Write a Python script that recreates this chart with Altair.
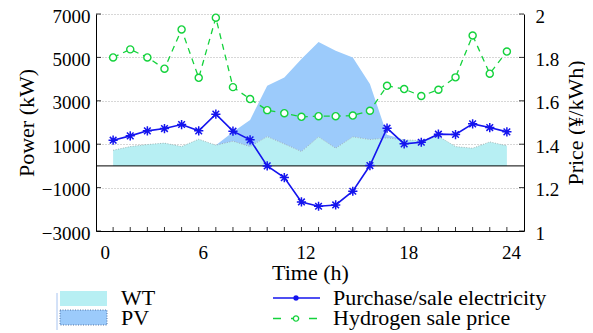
import altair as alt
import pandas as pd

# ---------------- data ----------------
hours = list(range(1, 25))
wt = [720, 890, 985, 1050, 890, 1230, 955, 1140, 890, 1350, 1015, 660,
      1340, 815, 1340, 1215, 1290, 1200, 1170, 1370, 890, 815, 1107, 923]
pv = [0, 0, 0, 0, 0, 0, 0, 420, 1230, 2340, 3060, 4265,
      4370, 4490, 3660, 2555, 150, 0, 0, 0, 0, 0, 0, 0]
purchase = [1185, 1384, 1615, 1722, 1907, 1615, 2385, 1600, 1200, 0, -540, -1662,
            -1860, -1800, -1168, 16, 1739, 1015, 1090, 1462, 1446, 1938, 1767, 1569]
price = [1.80, 1.837, 1.80, 1.748, 1.929, 1.706, 1.983, 1.663, 1.608, 1.557, 1.543, 1.526,
         1.529, 1.529, 1.532, 1.554, 1.669, 1.654, 1.622, 1.651, 1.708, 1.901, 1.725, 1.827]
x_ticks = [0, 6, 12, 18, 24]
power_ticks = [7000, 5000, 3000, 1000, -1000, -3000]
price_ticks = [2, 1.8, 1.6, 1.4, 1.2, 1]
sources = ["WT", "PV"]
series_names = ["Purchase/sale electricity", "Hydrogen sale price"]

# ---------------- style ----------------
W, H = 428, 217
FONT = "Liberation Serif"
C_WT = "#b7eff3"
C_PV = "#9ccbfb"
C_BLUE = "#1414ee"
C_GREEN = "#14d23c"
ASTER = "M-1,0L1,0M0,-1L0,1M-0.72,-0.72L0.72,0.72M-0.72,0.72L0.72,-0.72"

df = pd.DataFrame({"hour": hours, "wt": wt, "pv": pv, "purchase": purchase, "price": price})
area_df = pd.concat([
    pd.DataFrame({"hour": hours, "value": wt, "src": "WT", "ord": 0}),
    pd.DataFrame({"hour": hours, "value": pv, "src": "PV", "ord": 1}),
])

xscale = alt.Scale(domain=[0, 25], nice=False, zero=False)
yL = alt.Scale(domain=[-3000, 7000], nice=False, zero=False)
yR = alt.Scale(domain=[1, 2], nice=False, zero=False)

xaxis = alt.Axis(values=x_ticks, title="Time (h)", grid=False, tickSize=0,
                 labelFontSize=19, labelPadding=12, labelOffset=4,
                 titleFontSize=22, titleFontWeight="normal", titlePadding=0,
                 domainColor="black", labelColor="black", titleColor="black")
left_axis = alt.Axis(values=power_ticks, title="Power (kW)", format="d", grid=True,
                     gridDash=[1, 2], gridColor="#9a9a9a", gridWidth=0.8, tickSize=0,
                     labelFontSize=19, labelPadding=6, labelOffset=2,
                     titleFontSize=22, titleFontWeight="normal", titlePadding=3,
                     domainColor="black", labelColor="black", titleColor="black")
right_axis = alt.Axis(values=price_ticks, title="Price (¥/kWh)", format=".2~f", grid=False,
                      orient="right", tickSize=0, labelFontSize=19, labelPadding=11, labelOffset=2,
                      titleFontSize=22, titleFontWeight="normal", titleAngle=270,
                      titleX=58, titleBaseline="alphabetic",
                      domainColor="black", labelColor="black", titleColor="black")

X = alt.X("hour:Q", scale=xscale, axis=xaxis)

area = alt.Chart(area_df).mark_area(opacity=1).encode(
    x=X,
    y=alt.Y("value:Q", stack="zero", scale=yL, axis=left_axis),
    color=alt.Color("src:N", scale=alt.Scale(domain=sources, range=[C_WT, C_PV]), legend=None),
    order=alt.Order("ord:Q"),
)
wt_edge = alt.Chart(df).mark_line(color="#8fa6a6", strokeWidth=0.8, strokeDash=[1, 1.5]).encode(
    x=X, y=alt.Y("wt:Q", scale=yL, axis=None))

zero_df = pd.DataFrame({"v": [0]})
zero = alt.Chart(zero_df).mark_rule(color="black", strokeWidth=1).encode(
    y=alt.Y("v:Q", scale=yL, axis=None), x=alt.value(0), x2=alt.value(W))

blue_line = alt.Chart(df).mark_line(color=C_BLUE, strokeWidth=1.6).encode(
    x=X, y=alt.Y("purchase:Q", scale=yL, axis=None))
blue_pts = alt.Chart(df).mark_point(shape=ASTER, filled=False, size=85, strokeWidth=1.5,
                                    color=C_BLUE, opacity=1).encode(
    x=X, y=alt.Y("purchase:Q", scale=yL, axis=None))

green_line = alt.Chart(df).mark_line(color=C_GREEN, strokeWidth=1.3, strokeDash=[6, 5]).encode(
    x=X, y=alt.Y("price:Q", scale=yR, axis=right_axis))
green_pts = alt.Chart(df).mark_point(shape="circle", filled=True, fill="white", size=50,
                                     strokeWidth=1.4, stroke=C_GREEN, opacity=1).encode(
    x=X, y=alt.Y("price:Q", scale=yR, axis=None))

# inward ticks
hr_df = pd.DataFrame({"hour": hours})
xt = alt.Chart(hr_df).mark_rule(color="black", strokeWidth=0.8).encode(
    x=X, y=alt.value(H - 4), y2=alt.value(H))
pt_df = pd.DataFrame({"v": power_ticks})
ylt = alt.Chart(pt_df).mark_rule(color="black", strokeWidth=0.8).encode(
    y=alt.Y("v:Q", scale=yL, axis=None), x=alt.value(0), x2=alt.value(5))
yrt = alt.Chart(pt_df).mark_rule(color="black", strokeWidth=0.8).encode(
    y=alt.Y("v:Q", scale=yL, axis=None), x=alt.value(W - 5), x2=alt.value(W))

# legend (drawn manually, positions relative to plot origin)
one = pd.DataFrame({"a": [0]})
lg_bar = alt.Chart(one).mark_rule(color="#a8c4f0", strokeWidth=1).encode(
    x=alt.value(-39), y=alt.value(279), y2=alt.value(316))
lg_wt = alt.Chart(one).mark_rect(color=C_WT).encode(
    x=alt.value(-36), x2=alt.value(11), y=alt.value(277), y2=alt.value(292))
lg_pv = alt.Chart(one).mark_rect(color=C_PV, stroke="#4a6a9a", strokeWidth=0.9, strokeDash=[1, 1.5]).encode(
    x=alt.value(-36), x2=alt.value(11), y=alt.value(296), y2=alt.value(311))


def legend_text(label, x, y):
    return alt.Chart(one).mark_text(align="left", baseline="middle", fontSize=22, font=FONT,
                                    color="black", text=label).encode(x=alt.value(x), y=alt.value(y))


lg_t1 = legend_text(sources[0], 25, 284)
lg_t2 = legend_text(sources[1], 25, 304)
lg_t3 = legend_text(series_names[0], 237, 284)
lg_t4 = legend_text(series_names[1], 237, 304)
lg_l1 = alt.Chart(one).mark_rule(color=C_BLUE, strokeWidth=1.6).encode(
    x=alt.value(177), x2=alt.value(224), y=alt.value(284))
lg_p1 = alt.Chart(one).mark_point(shape=ASTER, filled=False, size=30, strokeWidth=1.6,
                                  color=C_BLUE, opacity=1).encode(x=alt.value(200), y=alt.value(284))
lg_l2 = alt.Chart(one).mark_rule(color=C_GREEN, strokeWidth=1.3, strokeDash=[8, 10]).encode(
    x=alt.value(177), x2=alt.value(225), y=alt.value(304.5))
lg_p2 = alt.Chart(one).mark_point(shape="circle", filled=True, fill="white", size=28, strokeWidth=1.4,
                                  stroke=C_GREEN, opacity=1).encode(x=alt.value(200), y=alt.value(304.5))

chart = alt.layer(
    area, green_line, wt_edge, zero, blue_line, blue_pts, green_pts, xt, ylt, yrt,
    lg_bar, lg_wt, lg_pv, lg_t1, lg_t2, lg_t3, lg_t4, lg_l1, lg_p1, lg_l2, lg_p2,
).resolve_scale(y="independent").properties(
    width=W, height=H,
    autosize=alt.AutoSizeParams(type="none"),
    padding={"left": 88, "top": 6, "right": 61, "bottom": 102},
).configure(font=FONT).configure_view(stroke=None).configure_axis(labelFont=FONT, titleFont=FONT)

chart.save("out.html", embed_options={"renderer": "svg", "actions": False})
